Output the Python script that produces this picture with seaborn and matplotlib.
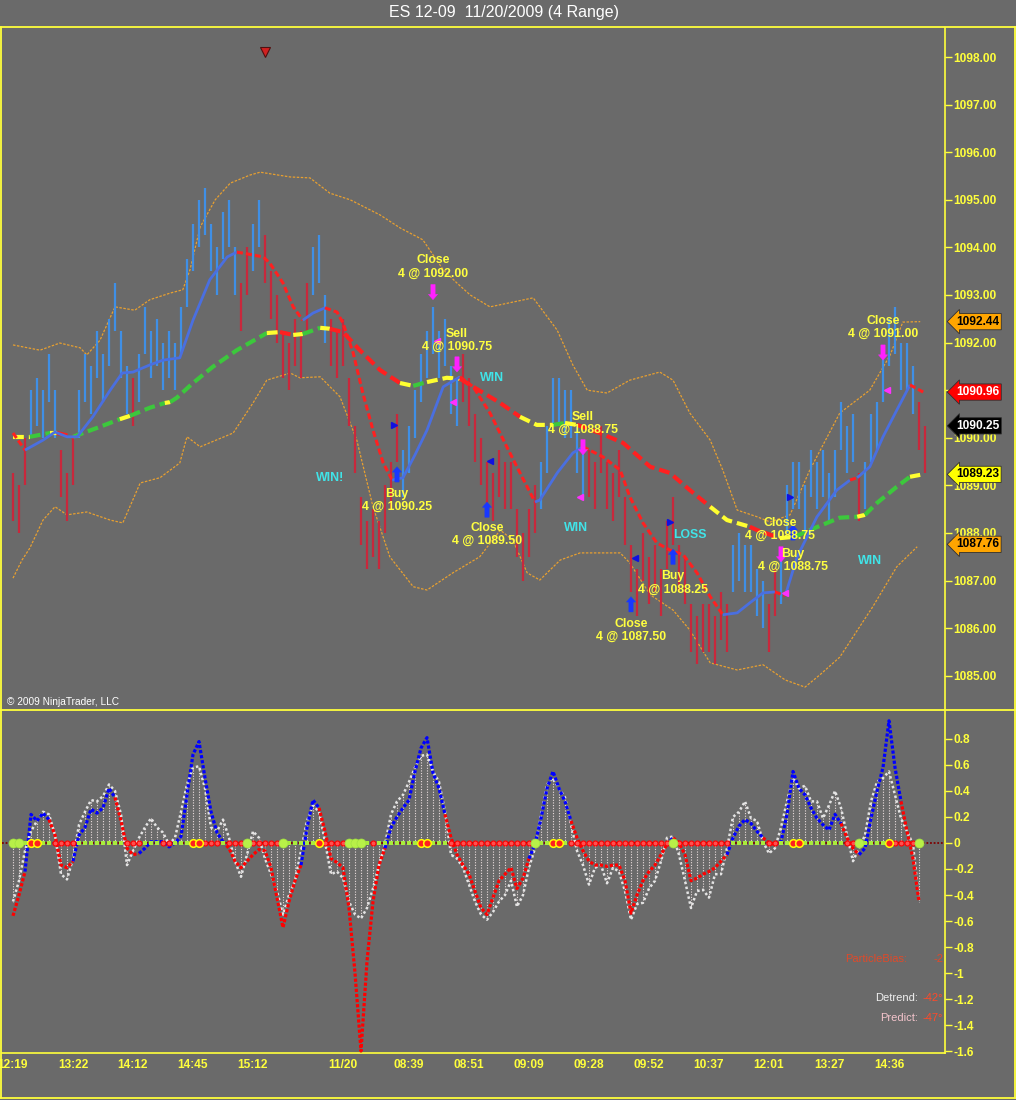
import numpy as np
import pandas as pd
import seaborn as sns
import matplotlib.pyplot as plt
from matplotlib.transforms import blended_transform_factory

# ---- price bars (4 tick range bars, 1 point tall) ----
BAR_HIGH = [1089.25, 1089.0, 1090.0, 1091.0, 1091.25, 1091.0, 1091.75, 1091.0, 1089.75, 1089.25,
            1090.0, 1091.0, 1091.75, 1091.5, 1092.25, 1091.75, 1092.5, 1093.25, 1092.25, 1091.5,
            1091.25, 1091.75, 1092.75, 1092.25, 1092.5, 1092.0, 1092.25, 1092.0, 1092.75, 1093.75,
            1094.5, 1095.0, 1095.25, 1094.5, 1094.0, 1094.75, 1095.0, 1094.0, 1093.25, 1094.0,
            1094.5, 1095.0, 1094.25, 1093.5, 1093.0, 1092.25, 1092.0, 1092.5, 1092.25, 1093.25,
            1094.0, 1094.25, 1093.0, 1092.5, 1092.25, 1092.5, 1091.25, 1090.25, 1088.75, 1088.25,
            1088.5, 1088.25, 1089.0, 1089.5, 1090.5, 1089.75, 1090.25, 1091.0, 1091.75, 1092.25,
            1092.75, 1092.25, 1092.5, 1091.5, 1091.25, 1091.75, 1091.25, 1090.5, 1090.0, 1089.5,
            1089.25, 1089.75, 1089.5, 1089.5, 1088.5, 1088.0, 1088.5, 1089.0, 1089.5, 1090.25,
            1091.25, 1091.25, 1091.0, 1091.0, 1090.25, 1089.75, 1089.75, 1089.5, 1090.25, 1089.5,
            1089.25, 1089.75, 1088.75, 1087.75, 1087.25, 1088.0, 1087.5, 1087.75, 1087.25, 1088.25,
            1088.75, 1087.75, 1087.5, 1086.5, 1086.25, 1086.5, 1086.5, 1086.25, 1086.75, 1086.5,
            1087.75, 1088.0, 1087.75, 1087.75, 1087.25, 1087.0, 1086.5, 1087.25, 1087.5, 1089.0,
            1089.5, 1089.5, 1089.0, 1089.75, 1089.5, 1089.75, 1089.25, 1089.75, 1090.75, 1090.25,
            1090.5, 1089.25, 1089.5, 1090.5, 1090.75, 1091.75, 1092.5, 1092.75, 1092.0, 1092.0,
            1091.5, 1090.75, 1090.25]
BAR_DIR = ("ddduuuuudd" "duuuuuuuuu" "duuuuuuuuu" "uuuuuuuudd" "uudddddddd"
           "uuuddddddd" "ddddduuuuu" "uuuuuddddd" "dddddddduu" "uuuuuudddd"
           "dddddddddd" "dddddddddd" "uuuuuudduu" "uuuuuuuuuu" "uduuuuuuuu" "udd")
BAR_RANGE = 1.0

# ---- bands ----
UP_X = [0, 4.5, 7.8, 11.2, 12.3, 14.5, 17, 20.3, 22.8, 26.2, 28.3, 29.5, 31.2, 33.7, 36.2, 39.5,
        41.2, 46.2, 49.5, 52.8, 56.2, 61.2, 64.5, 68.3, 71.7, 74, 76.2, 79.5, 83.3, 86.7, 90.7,
        93.3, 95.7, 99, 102.8, 107.8, 110, 112.8, 116.2, 118.3, 120.7, 124, 126.2, 129.5, 132.8,
        137.8, 142.8, 146.2, 148.3, 151.2]
UP_Y = [1091.95, 1091.84, 1091.99, 1091.89, 1091.74, 1092.05, 1092.75, 1092.68, 1092.90, 1093.04,
        1093.11, 1093.53, 1094.43, 1095.00, 1095.35, 1095.52, 1095.58, 1095.48, 1095.46, 1095.14,
        1095.00, 1094.68, 1094.41, 1094.16, 1093.53, 1093.25, 1093.00, 1092.75, 1092.85, 1092.94,
        1092.26, 1091.53, 1091.00, 1090.94, 1091.21, 1091.38, 1091.21, 1090.52, 1089.95, 1089.32,
        1088.48, 1088.34, 1088.23, 1088.38, 1089.32, 1090.52, 1091.00, 1091.74, 1092.43, 1092.44]
LO_X = [0, 1.5, 2.8, 5, 7, 9, 12.3, 16.2, 18.3, 21.2, 24.5, 27.8, 29, 31.2, 36.7, 40, 42.3, 46.2,
        47.8, 51.2, 54.5, 57.3, 60, 62.8, 66.7, 69, 73.3, 77.8, 81.2, 83.3, 85.7, 87.8, 91.2, 94.5,
        101.2, 102.8, 106.2, 110, 112.8, 116.2, 120.7, 125, 128.7, 132, 134.5, 137.8, 143.3, 147.3,
        150.7]
LO_Y = [1087.05, 1087.43, 1087.68, 1088.27, 1088.55, 1088.38, 1088.44, 1088.27, 1088.21, 1089.05,
        1089.16, 1089.47, 1090.02, 1089.81, 1090.10, 1090.73, 1091.21, 1091.36, 1091.26, 1091.28,
        1090.86, 1089.95, 1088.55, 1087.50, 1086.87, 1086.80, 1087.16, 1087.50, 1088.06, 1087.85,
        1087.16, 1087.01, 1087.43, 1087.58, 1087.58, 1087.37, 1086.70, 1086.38, 1085.96, 1085.27,
        1085.12, 1085.23, 1084.91, 1084.76, 1085.02, 1085.39, 1086.45, 1087.29, 1087.71]

# ---- fast average (blue rising / red falling) ----
FAST_X = [0, 2, 5, 7, 9, 10.7, 13.3, 16.2, 18.2, 20, 22.8, 25, 27.8, 30, 32.8, 35.7, 37.3, 38.3,
          41.7, 42.8, 45, 46.7, 48.3, 50, 52, 54, 55, 56.7, 58.3, 60, 61.7, 63.2, 65, 67, 69, 71.7,
          74.5, 76.7, 79.5, 82.3, 84.5, 87, 87.8, 90.7, 93.3, 95, 98.3, 101.2, 102.8, 105, 107.3,
          109.5, 111.7, 114, 116.2, 118.3, 120.7, 122.8, 125, 127, 128.7, 130.7, 134, 137.3, 139.5,
          140.7, 142.8, 145, 147.3, 149.5, 151.7]
FAST_Y = [1090.10, 1089.74, 1089.95, 1090.12, 1090.02, 1090.02, 1090.44, 1091.00, 1091.36, 1091.38,
          1091.53, 1091.63, 1091.68, 1092.47, 1093.32, 1093.80, 1093.90, 1093.88, 1093.80, 1093.67,
          1093.25, 1092.75, 1092.47, 1092.62, 1092.73, 1092.64, 1092.41, 1091.78, 1090.94, 1090.16,
          1089.47, 1089.11, 1089.16, 1089.64, 1090.16, 1091.07, 1091.28, 1091.07, 1090.52, 1089.81,
          1089.26, 1088.65, 1088.69, 1089.26, 1089.68, 1089.81, 1089.60, 1089.32, 1088.76, 1088.21,
          1087.79, 1087.64, 1087.54, 1087.16, 1086.66, 1086.28, 1086.32, 1086.53, 1086.74, 1086.76,
          1086.68, 1087.50, 1088.34, 1088.90, 1089.11, 1089.16, 1089.39, 1090.02, 1090.58, 1091.11,
          1090.96]
FAST_C = "rrbbbbbbbb" "bbbbbbbrrr" "rrrbbrrrrr" "rrbbbbbrrr" "rrbbbbrrrr" "rrrrrrbbbb" "rbbbbrbbbb" "r"

# ---- slow average (green rising / red falling / yellow flat) ----
SLOW_X = [0, 2.8, 6.2, 7.3, 10, 14.5, 17.8, 19.5, 22.8, 25.3, 26.2, 27.3, 30, 33.3, 37.3, 42.3,
          44.5, 46.7, 48.3, 51.2, 52.8, 55, 57.8, 61.2, 64.5, 66.7, 69, 72.3, 74.5, 76.7, 81.2,
          84.5, 87.3, 90, 92, 94, 97.8, 101.7, 106.2, 109.5, 112.8, 116.2, 119, 122.8, 124, 127.8,
          130.3, 132.8, 137.8, 140.7, 142, 144, 147.3, 149.5, 151.2]
SLOW_Y = [1090.02, 1090.02, 1090.10, 1090.10, 1090.02, 1090.23, 1090.39, 1090.46, 1090.63, 1090.73,
          1090.75, 1090.84, 1091.15, 1091.49, 1091.84, 1092.20, 1092.22, 1092.16, 1092.18, 1092.31,
          1092.29, 1092.22, 1091.84, 1091.42, 1091.15, 1091.09, 1091.17, 1091.26, 1091.24, 1091.07,
          1090.73, 1090.44, 1090.27, 1090.27, 1090.31, 1090.27, 1090.10, 1089.89, 1089.39, 1089.26,
          1088.90, 1088.55, 1088.27, 1088.13, 1088.06, 1087.89, 1087.92, 1088.06, 1088.32, 1088.34,
          1088.38, 1088.63, 1088.97, 1089.18, 1089.22]
SLOW_C = "yygyrggygg" "ygggggyryg" "yrrrrygyyr" "rryygyrrrr" "rryyrryggg" "ygggy"

# ---- right axis value tags ----
TAG_VAL = [1092.44, 1090.96, 1090.25, 1089.23, 1087.76]
TAG_BG = ['#ffa500', '#ff0000', '#000000', '#ffff00', '#ffa500']
TAG_FG = ['black', 'white', 'white', 'black', 'black']

# ---- trades ----
TRADE_TXT = ["Close\n4 @ 1092.00", "Sell\n4 @ 1090.75", "Buy\n4 @ 1090.25", "Close\n4 @ 1089.50",
             "Sell\n4 @ 1088.75", "Close\n4 @ 1087.50", "Buy\n4 @ 1088.25", "Close\n4 @ 1088.75",
             "Buy\n4 @ 1088.75", "Close\n4 @ 1091.00"]
TRADE_X = [70, 74, 64, 79, 95, 103, 110, 127.8, 130, 145]
TRADE_Y = [1093.59, 1092.05, 1088.69, 1087.96, 1090.31, 1085.96, 1086.95, 1088.08, 1087.43, 1092.32]
RESULT_TXT = ["WIN!", "WIN", "WIN", "LOSS", "WIN"]
RESULT_X = [52.8, 79.8, 93.8, 112.8, 142.8]
RESULT_Y = [1089.16, 1091.26, 1088.11, 1087.96, 1087.41]
UPARROW_X = [64, 79, 103, 110, 130]
UPARROW_TIP = [1089.39, 1088.65, 1086.66, 1087.66, 1088.17]
DNARROW_X = [70, 74, 95, 128, 145]
DNARROW_TIP = [1092.90, 1091.38, 1089.64, 1087.39, 1091.63]
TRI_X = [63.5, 79.5, 103.7, 109.5, 129.5]
TRI_Y = [1090.27, 1089.51, 1087.47, 1088.23, 1088.76]
TRI_M = ['>', '<', '<', '>', '>']
MAG_X = [70.7, 73.3, 94.5, 128.7, 145.7]
MAG_Y = [1092.03, 1090.75, 1088.76, 1086.74, 1091.0]

# ---- oscillator panel ----
OSC_MAIN = [-0.56, -0.40, -0.22, 0.22, 0.17, 0.23, 0.18, 0.06, -0.17, -0.19,
            -0.14, 0.06, 0.12, 0.26, 0.23, 0.27, 0.42, 0.35, 0.17, -0.04,
            -0.09, -0.08, -0.04, 0.01, 0.01, 0.01, -0.03, 0.00, 0.05, 0.37,
            0.68, 0.78, 0.50, 0.24, 0.08, 0.01, -0.04, -0.14, -0.19, -0.14,
            -0.09, -0.05, -0.06, -0.19, -0.42, -0.65, -0.45, -0.29, -0.17, 0.12,
            0.33, 0.27, 0.09, -0.12, -0.15, -0.19, -0.50, -1.00, -1.60, -0.91,
            -0.45, -0.17, -0.04, 0.12, 0.20, 0.27, 0.33, 0.55, 0.73, 0.81,
            0.54, 0.42, 0.22, 0.04, -0.09, -0.17, -0.24, -0.37, -0.50, -0.55,
            -0.42, -0.29, -0.24, -0.19, -0.35, -0.27, -0.12, -0.01, 0.19, 0.42,
            0.55, 0.42, 0.32, 0.17, 0.04, -0.06, -0.14, -0.17, -0.17, -0.18,
            -0.17, -0.17, -0.29, -0.54, -0.40, -0.29, -0.22, -0.17, -0.09, -0.01,
            0.04, 0.00, -0.09, -0.29, -0.27, -0.24, -0.22, -0.19, -0.14, -0.09,
            0.04, 0.13, 0.18, 0.15, 0.09, 0.04, 0.00, -0.01, 0.01, 0.22,
            0.55, 0.42, 0.37, 0.27, 0.19, 0.14, 0.10, 0.22, 0.15, 0.04,
            -0.04, -0.09, -0.04, 0.19, 0.40, 0.58, 0.94, 0.58, 0.32, 0.09,
            -0.12, -0.45]
OSC_C = ("rrrbbbbrrr" "rbbbbbbbrr" "rrbbbbbbbb" "bbbbbbrrrr" "rrrrrrrrrb"
         "bbrrrrrrrr" "rrrbbbbbbb" "bbbrrrrrrr" "rrrrrrrbbb" "bbbbrrrrrr"
         "rrrrrrrrrr" "brrrrrrrrr" "bbbbbbrrbb" "bbbbbbbbbr" "rrbbbbbbbr" "rr")
OSC_DETREND = [-0.45, -0.29, -0.06, 0.09, 0.17, 0.24, 0.22, 0.06, -0.24, -0.28,
               -0.12, 0.14, 0.24, 0.33, 0.32, 0.36, 0.45, 0.40, 0.22, -0.17,
               -0.06, 0.04, 0.12, 0.19, 0.12, 0.08, -0.01, 0.04, 0.24, 0.45,
               0.58, 0.59, 0.42, 0.12, 0.09, 0.18, 0.04, -0.14, -0.26, -0.09,
               0.09, 0.04, -0.12, -0.24, -0.37, -0.55, -0.40, -0.29, -0.06, 0.17,
               0.29, 0.24, 0.01, -0.24, -0.22, -0.27, -0.45, -0.55, -0.58, -0.50,
               -0.35, -0.17, -0.01, 0.22, 0.32, 0.37, 0.47, 0.58, 0.67, 0.68,
               0.55, 0.47, 0.24, -0.09, -0.12, -0.19, -0.32, -0.45, -0.55, -0.59,
               -0.53, -0.45, -0.40, -0.29, -0.49, -0.40, -0.19, -0.04, 0.22, 0.45,
               0.50, 0.42, 0.35, 0.14, -0.06, -0.17, -0.32, -0.19, -0.17, -0.31,
               -0.19, -0.22, -0.37, -0.59, -0.47, -0.46, -0.35, -0.29, -0.14, 0.04,
               0.05, -0.09, -0.29, -0.50, -0.37, -0.36, -0.42, -0.24, -0.24, -0.04,
               0.20, 0.24, 0.32, 0.19, 0.17, 0.01, -0.08, -0.04, 0.12, 0.32,
               0.50, 0.42, 0.44, 0.32, 0.32, 0.19, 0.29, 0.40, 0.27, 0.06,
               -0.14, -0.04, 0.06, 0.32, 0.47, 0.50, 0.55, 0.37, 0.19, 0.09,
               -0.01, -0.45]
# zero line dots: g small lime, r red, G big lime circle, Y red with yellow ring
ZERO_DOTS = ("GGgYYggrrr" "rggggggggr" "rrgggrrggg" "YYrrrgrrrG" "rrrrrGgggg"
             "gYrrrrGGGg" "rgggggggYY" "gggrrrrrrr" "rrrrrrrGgg" "YYgrrrrrrr"
             "rrrrrrrrrr" "Grrrrrrrrr" "ggggggrrgg" "YYgggggggr" "rGggggYrrr" "rG")
OSC_TICKS = [0.8, 0.6, 0.4, 0.2, 0, -0.2, -0.4, -0.6, -0.8, -1, -1.2, -1.4, -1.6]

# ---- time axis ----
TICK_BARS = [0, 10, 20, 30, 40, 50, 55, 66, 76, 86, 96, 106, 116, 126, 136, 146]
TICK_LABELS = ['12:19', '13:22', '14:12', '14:45', '15:12', '', '11/20', '08:39', '08:51',
               '09:09', '09:28', '09:52', '10:37', '12:01', '13:27', '14:36']

W, H = 1016, 1100
BG = '#6a6a6a'
YEL = '#ffff3c'

sns.set_theme(style='dark', rc={'axes.facecolor': BG, 'figure.facecolor': BG,
                                'savefig.facecolor': BG, 'axes.grid': False})
plt.rcParams['font.family'] = ['Liberation Sans', 'DejaVu Sans']

fig = plt.figure(figsize=(W / 100, H / 100), dpi=100)


def px_axes(l, t, r, b):
    return fig.add_axes([l / W, 1 - b / H, (r - l) / W, (b - t) / H])


def draw_runs(ax, xs, ys, codes, styles, z):
    # segment k goes from point k-1 to k and takes codes[k]
    k = 1
    n = len(xs)
    while k < n:
        c = codes[k]
        m = k
        while m + 1 < n and codes[m + 1] == c:
            m += 1
        ax.plot(xs[k - 1:m + 1], ys[k - 1:m + 1], zorder=z, solid_capstyle='butt',
                dash_capstyle='butt', **styles[c])
        k = m + 1


ax1 = px_axes(2, 28, 945, 709)
ax2 = px_axes(2, 711, 945, 1053)
for ax in (ax1, ax2):
    ax.set_xlim(-11 / 6, 932 / 6)
    for s in ax.spines.values():
        s.set_visible(False)
    ax.spines['right'].set_visible(True)
    ax.spines['right'].set_color(YEL)
    ax.spines['right'].set_linewidth(1.2)
    ax.yaxis.tick_right()
ax2.spines['bottom'].set_visible(True)
ax2.spines['bottom'].set_color(YEL)
ax2.spines['bottom'].set_linewidth(1.2)

# ---------------- price panel ----------------
ax1.set_ylim(1084.30, 1098.61)
bars = pd.DataFrame({'x': np.arange(len(BAR_HIGH)), 'high': BAR_HIGH, 'dir': list(BAR_DIR)})
bars['low'] = bars['high'] - BAR_RANGE
bar_colors = bars['dir'].map({'u': '#3f8fe6', 'd': '#c8283c'})
ax1.vlines(bars['x'], bars['low'], bars['high'], colors=bar_colors, lw=1.6, zorder=2)

sns.lineplot(x=UP_X, y=UP_Y, ax=ax1, color='#e8a030', lw=0.9, linestyle=(0, (2, 1.2)),
             estimator=None, sort=False, zorder=1)
sns.lineplot(x=LO_X, y=LO_Y, ax=ax1, color='#e8a030', lw=0.9, linestyle=(0, (2, 1.2)),
             estimator=None, sort=False, zorder=1)

slow_styles = {'g': dict(color='#3cc83c', lw=3.0, ls=(0, (2.6, 1.2))),
               'r': dict(color='#ff2020', lw=3.0, ls=(0, (2.6, 1.2))),
               'y': dict(color='#ffff30', lw=3.0, ls=(0, (2.6, 1.2)))}
draw_runs(ax1, SLOW_X, SLOW_Y, SLOW_C, slow_styles, 3)
fast_styles = {'b': dict(color='#4a6fe0', lw=2.0, ls='-'),
               'r': dict(color='#ff2020', lw=2.2, ls=(0, (2, 1)))}
draw_runs(ax1, FAST_X, FAST_Y, FAST_C, fast_styles, 4)

# trade markers
for x, tip in zip(UPARROW_X, UPARROW_TIP):
    ax1.annotate('', xy=(x, tip), xytext=(0, -11), textcoords='offset points', zorder=6,
                 arrowprops=dict(arrowstyle='simple,head_length=0.35,head_width=0.6,tail_width=0.28',
                                 fc='#1838ff', ec='#1838ff', lw=0.3, shrinkA=0, shrinkB=0,
                                 mutation_scale=11))
for x, tip in zip(DNARROW_X, DNARROW_TIP):
    ax1.annotate('', xy=(x, tip), xytext=(0, 11), textcoords='offset points', zorder=6,
                 arrowprops=dict(arrowstyle='simple,head_length=0.35,head_width=0.6,tail_width=0.28',
                                 fc='#ff20ff', ec='#ff20ff', lw=0.3, shrinkA=0, shrinkB=0,
                                 mutation_scale=11))
for x, y, m in zip(TRI_X, TRI_Y, TRI_M):
    ax1.plot(x, y, marker=m, ms=5, color='#1010e0', ls='none', zorder=6)
ax1.plot(MAG_X, MAG_Y, marker='<', ms=4.5, color='#ff30ff', ls='none', zorder=6)
ax1.plot(42, 1098.1, marker='v', ms=6.5, mfc='#d02020', mec='#501010', mew=0.8, zorder=6,
         clip_on=False)

for t, x, y in zip(TRADE_TXT, TRADE_X, TRADE_Y):
    ax1.text(x, y, t, color='#ffff40', fontsize=8.8, fontweight='bold', ha='center',
             va='center', linespacing=1.1, zorder=7)
for t, x, y in zip(RESULT_TXT, RESULT_X, RESULT_Y):
    ax1.text(x, y, t, color='#40e4e8', fontsize=8.8, fontweight='bold', ha='center',
             va='center', zorder=7)

ax1.set_xticks([])
ax1.set_yticks(range(1085, 1099))
ax1.set_yticklabels([f'{v:.2f}' for v in range(1085, 1099)], fontweight='bold')
ax1.tick_params(axis='y', colors=YEL, direction='out', length=5, width=1, pad=1,
                labelsize=8.6, right=True, left=False)

tag_tr = blended_transform_factory(ax1.transAxes, ax1.transData)
for v, bg, fg in zip(TAG_VAL, TAG_BG, TAG_FG):
    ax1.text(1 + 11 / 943, v, f'{v:.2f}', transform=tag_tr, color=fg, fontsize=8.6,
             fontweight='bold', ha='left', va='center', clip_on=False, zorder=8,
             bbox=dict(boxstyle='larrow,pad=0.18', fc=bg, ec='#303030', lw=0.6))

# ---------------- oscillator panel ----------------
ax2.set_ylim(-1.615, 1.015)
osc_x = np.arange(len(OSC_MAIN))
ax2.vlines(osc_x, 0, OSC_DETREND, colors='#eadede', lw=0.8, linestyles=(0, (1, 1.4)), zorder=1)
ax2.axhline(0, color='#800000', lw=1.3, ls=(0, (1, 1)), zorder=1.5)
sns.lineplot(x=osc_x, y=OSC_DETREND, ax=ax2, color='#e4e4e4', lw=1.8, linestyle=(0, (1, 1)),
             estimator=None, sort=False, zorder=2)
osc_styles = {'b': dict(color='#0000ff', lw=2.3, ls=(0, (1, 0.6))),
              'r': dict(color='#ff0000', lw=2.3, ls=(0, (1, 0.6)))}
draw_runs(ax2, list(osc_x), OSC_MAIN, OSC_C, osc_styles, 3)

dot_styles = {'g': dict(marker='s', ms=3.2, mfc='#a8ec3c', mec='#a8ec3c', mew=0),
              'r': dict(marker='o', ms=3.6, mfc='#ff5050', mec='#ff0000', mew=0.8),
              'G': dict(marker='o', ms=6.5, mfc='#b8f048', mec='#a0e040', mew=0.5),
              'Y': dict(marker='o', ms=5.5, mfc='#ff2020', mec='#ffff00', mew=1.1)}
for code, st in dot_styles.items():
    idx = [i for i, c in enumerate(ZERO_DOTS) if c == code]
    ax2.plot(idx, np.zeros(len(idx)), ls='none', zorder=4, **st)

ax2.set_yticks(OSC_TICKS)
ax2.set_yticklabels([f'{v:g}' for v in OSC_TICKS], fontweight='bold')
ax2.tick_params(axis='y', colors=YEL, direction='out', length=5, width=1, pad=1,
                labelsize=8.6, right=True, left=False)
ax2.set_xticks(TICK_BARS)
ax2.set_xticklabels(TICK_LABELS, fontweight='bold')
ax2.tick_params(axis='x', colors=YEL, direction='in', length=5, width=1, pad=4, labelsize=8.6)

ax2.text(0.9597, 0.275, 'ParticleBias:', transform=ax2.transAxes, color='#e04a2a',
         fontsize=8, ha='right', va='center')
ax2.text(0.998, 0.275, '-2', transform=ax2.transAxes, color='#e04a2a', fontsize=8,
         ha='right', va='center')
ax2.text(0.9713, 0.161, 'Detrend:', transform=ax2.transAxes, color='#f0f0f0', fontsize=8,
         ha='right', va='center')
ax2.text(0.998, 0.161, '-42°', transform=ax2.transAxes, color='#ff4a2a', fontsize=8,
         ha='right', va='center')
ax2.text(0.9713, 0.102, 'Predict:', transform=ax2.transAxes, color='#f4c4cc', fontsize=8,
         ha='right', va='center')
ax2.text(0.998, 0.102, '-47°', transform=ax2.transAxes, color='#ff4a2a', fontsize=8,
         ha='right', va='center')

# ---------------- frame and titles ----------------
ov = fig.add_axes([0, 0, 1, 1])
ov.set_xlim(0, W)
ov.set_ylim(H, 0)
ov.axis('off')
ov.patch.set_visible(False)
for xs, ys in [([0, W], [27, 27]), ([1, 1], [27, 1098]), ([1015, 1015], [27, 1098]),
               ([0, W], [710, 710]), ([0, W], [1097.5, 1097.5])]:
    ov.plot(xs, ys, color=YEL, lw=1.3)

fig.text(504 / W, 1 - 12 / H, 'ES 12-09  11/20/2009 (4 Range)', color='white', fontsize=11.5,
         family=['Liberation Sans Narrow', 'Liberation Sans', 'DejaVu Sans'],
         ha='center', va='center')
fig.text(7 / W, 1 - 702 / H, '© 2009 NinjaTrader, LLC', color='white', fontsize=7.3,
         ha='left', va='center')

fig.savefig('out.png', dpi=100, facecolor=BG)
